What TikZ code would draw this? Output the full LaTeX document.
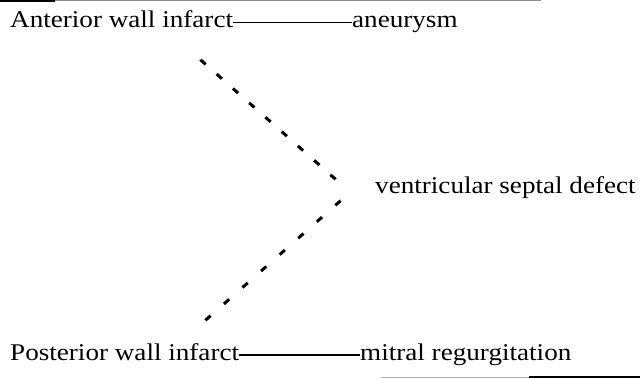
\documentclass[tikz,border=0pt]{standalone}
\usepackage{fontspec}
\setmainfont[FakeStretch=1.13]{Liberation Serif}
\usetikzlibrary{positioning}

\begin{document}
\begin{tikzpicture}[
  x = 1pt, y = -1pt, font = \fontsize{24}{28}\selectfont,
  term/.style  = {anchor=base west, inner sep=0pt},
  link/.style  = {line width=1.3pt},
  hint/.style  = {line width=3pt, dash pattern=on 7pt off #1},
  hint/.default = 14.7pt,
  rulebar/.style = {line width=#1},
  rulebar/.default = 2pt
]
\useasboundingbox (0,0) rectangle (640,378);
% table rules
\draw[rulebar] (0,1) -- (55,1);
\draw[rulebar=1pt, black!45] (55,0.8) -- (541,0.8);
\draw[rulebar=1pt, black!30] (381,377) -- (529,377);
\draw[rulebar] (529,377) -- (640,377);
% terms
\node[term] (ant)    at (10,27.3)  {Anterior wall infarct};
\node[term] (aneu)   at (352,27.3) {aneurysm};
\node[term] (vsd)    at (375,193)  {ventricular septal defect};
\node[term] (post)   at (10,360)   {Posterior wall infarct};
\node[term] (mitral) at (360,360)  {mitral regurgitation};
% free ends of the dotted links
\coordinate (antend)  at (200.4,59.7);
\coordinate (vsdtop)  at (335.6,179.3);
\coordinate (vsdbot)  at (340.6,200.7);
\coordinate (postend) at (205.4,320.3);
\draw[link] ([yshift=4.6pt]ant.base east)  -- ([yshift=4.6pt]aneu.base west);
\draw[link] ([yshift=5pt]post.base east)   -- ([yshift=5pt]mitral.base west);
\draw[hint]        (antend) -- (vsdtop);
\draw[hint=17.8pt] (vsdbot) -- (postend);
\end{tikzpicture}
\end{document}
